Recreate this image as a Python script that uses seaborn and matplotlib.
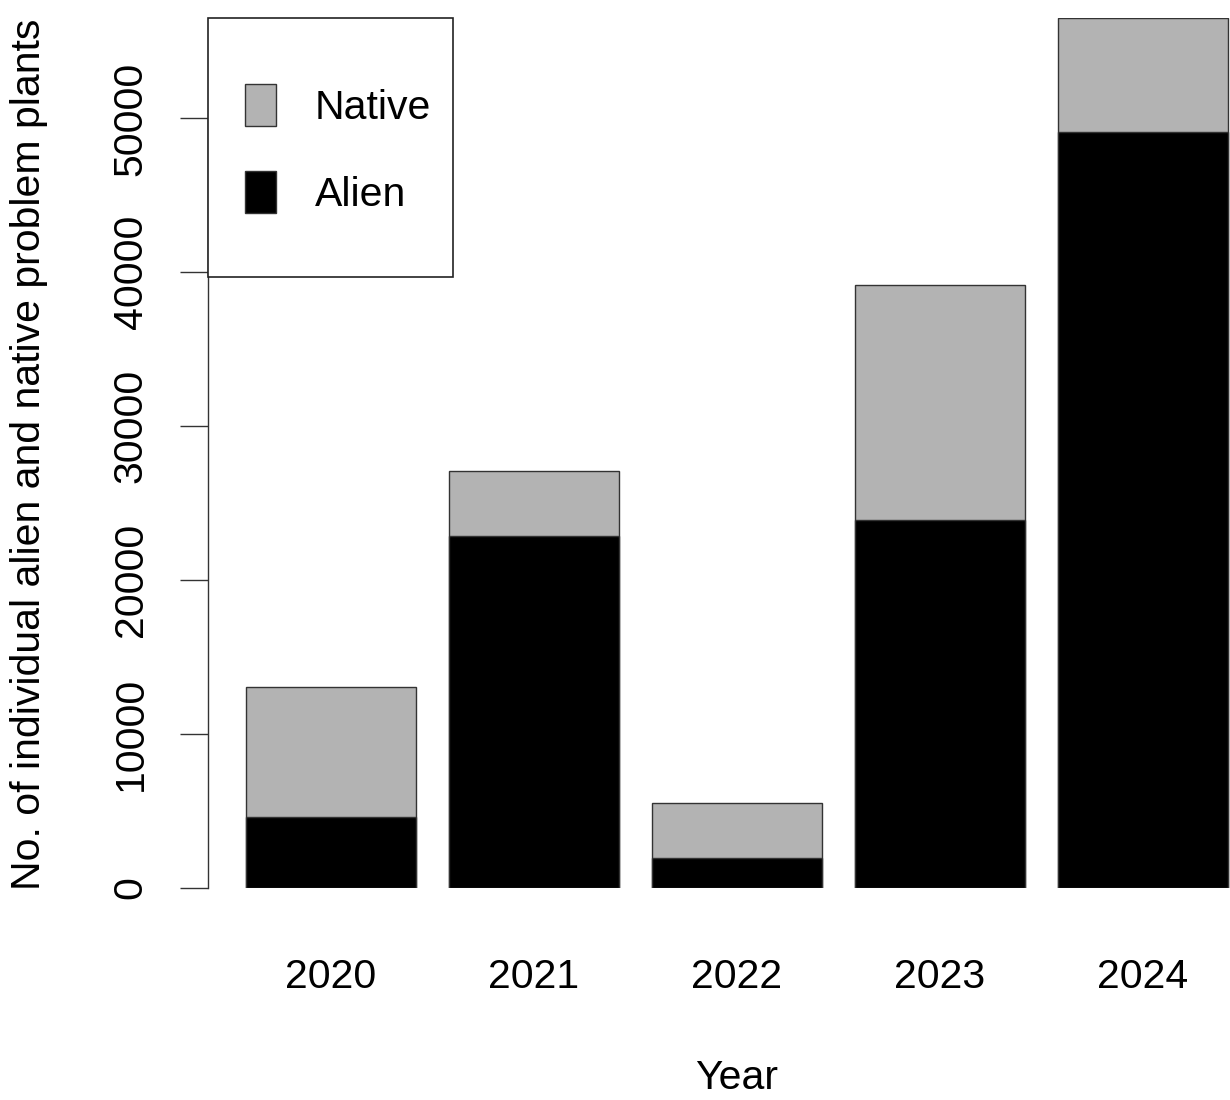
import matplotlib
matplotlib.use("Agg")
import matplotlib.pyplot as plt
import seaborn as sns
from matplotlib.patches import Patch, Rectangle

# data
years = ["2020", "2021", "2022", "2023", "2024"]
alien = [4600, 22850, 1900, 23900, 49100]
native = [8450, 4250, 3570, 15300, 7430]
totals = [a + n for a, n in zip(alien, native)]
yticks = [0, 10000, 20000, 30000, 40000, 50000]

sns.set_style("white")
plt.rcParams['font.family'] = ['Liberation Sans', 'DejaVu Sans']
plt.rcParams['text.color'] = 'black'
plt.rcParams['axes.labelcolor'] = 'black'
plt.rcParams['xtick.color'] = 'black'
plt.rcParams['ytick.color'] = 'black'
FS = 29.5
GRAY = "#B3B3B3"

W, H = 1230, 1100
fig = plt.figure(figsize=(12.3, 11), dpi=100)
# axes placed in pixel terms (R plot region)
ax = fig.add_axes([208 / W, (H - 887.5) / H, (1230 - 208) / W, 869.5 / H])

# stacked bars: total (native on top) then alien over it
sns.barplot(x=years, y=totals, color=GRAY, saturation=1, width=0.837,
            edgecolor="#333333", linewidth=1.0, ax=ax)
sns.barplot(x=years, y=alien, color="black", saturation=1, width=0.837,
            edgecolor="#333333", linewidth=1.0, ax=ax)

ax.set_xlim(-0.606, 4.429)
ax.set_ylim(0, max(totals))

for s in ["top", "right", "bottom"]:
    ax.spines[s].set_visible(False)
ax.spines["left"].set_bounds(0, 50000)
ax.spines["left"].set_linewidth(1.0)
ax.spines["left"].set_color("#333333")

ax.set_yticks(yticks)
ax.set_yticklabels([str(v) for v in yticks], rotation=90, va="center")
ax.tick_params(axis="y", length=20, width=1.0, color="#333333", pad=22,
               labelsize=FS, left=True)
ax.tick_params(axis="x", length=0, pad=51, labelsize=FS)

ax.set_xlabel("Year", fontsize=FS, va="center")
ax.xaxis.set_label_coords((737 - 208) / 1022, (887.5 - 1078) / 869.5)
ax.set_ylabel("No. of individual alien and native problem plants",
              fontsize=FS, va="center")
ax.yaxis.set_label_coords((29 - 208) / 1022, (887.5 - 454) / 869.5)

# legend box (R style)
box = Rectangle((0, 1 - 259 / 869.5), 245 / 1022, 259 / 869.5,
                transform=ax.transAxes, facecolor="white", edgecolor="#222222",
                linewidth=1.2, zorder=5, clip_on=False)
ax.add_patch(box)
handles = [Patch(facecolor=GRAY, edgecolor="#333333", linewidth=1.0, label="Native"),
           Patch(facecolor="black", edgecolor="#333333", linewidth=1.0, label="Alien")]
leg = ax.legend(handles=handles, loc="upper left",
                bbox_to_anchor=(37 / 1022, 1 - 66 / 869.5),
                frameon=False, fontsize=FS, borderpad=0, borderaxespad=0,
                handlelength=31 / 41, handleheight=1.2,
                handletextpad=0.95, labelspacing=1.08)
leg.set_zorder(6)

fig.savefig("out.png", dpi=100)
